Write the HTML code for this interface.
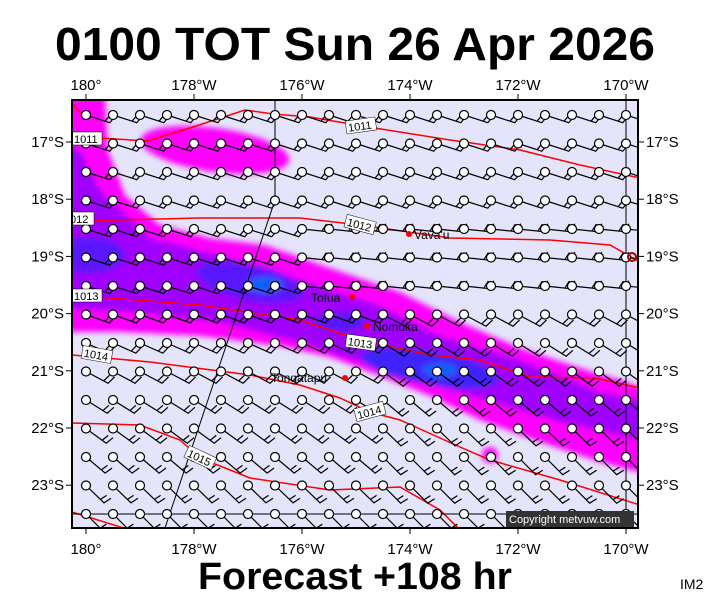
<!DOCTYPE html><html><head><meta charset="utf-8"><style>
body{margin:0;background:#fff;width:711px;height:600px;overflow:hidden;font-family:"Liberation Sans",sans-serif}
</style></head><body>
<svg id="s" width="711" height="600" xmlns="http://www.w3.org/2000/svg" font-family="Liberation Sans, sans-serif">
<text x="355" y="60" font-size="46" font-weight="bold" text-anchor="middle" textLength="600" lengthAdjust="spacingAndGlyphs">0100 TOT Sun 26 Apr 2026</text>
<text x="355" y="589" font-size="38" font-weight="bold" text-anchor="middle" textLength="314" lengthAdjust="spacingAndGlyphs">Forecast +108 hr</text>
<text x="680" y="589" font-size="14">IM2</text>
<defs><clipPath id="c"><rect x="72" y="100" width="566" height="428"/></clipPath>
<filter id="b"><feGaussianBlur stdDeviation="3"/></filter></defs>
<rect x="72" y="100" width="566" height="428" fill="#e4e4fa"/>
<g clip-path="url(#c)">
<g filter="url(#b)">
<path fill="#ff00ff" d="M60,95 L105,95 L108,150 L125,195 L160,225 L210,238 L265,245 L330,268 L400,292 L460,322 L520,348 L580,368 L620,380 L650,390 L650,475 L600,462 L540,442 L480,420 L430,396 L380,376 L330,357 L280,346 L200,336 L120,332 L60,332Z"/>
<ellipse cx="215" cy="150" rx="75" ry="22" fill="#ff00ff" transform="rotate(8 215 150)"/>
<circle cx="490" cy="455" r="8" fill="#ff00ff"/>
<path fill="#a000ff" d="M60,140 L80,150 L100,190 L150,238 L230,258 L300,280 L380,306 L440,336 L520,360 L600,392 L650,402 L650,442 L560,422 L480,398 L420,382 L360,362 L300,342 L220,322 L130,312 L60,308Z"/>
<ellipse cx="250" cy="282" rx="55" ry="18" fill="#5a14ff" transform="rotate(12 250 282)"/>
<ellipse cx="90" cy="255" rx="35" ry="18" fill="#5a14ff"/>
<ellipse cx="430" cy="368" rx="70" ry="17" fill="#4020ff" transform="rotate(10 430 368)"/>
<ellipse cx="340" cy="322" rx="25" ry="10" fill="#5a14ff"/>
<ellipse cx="265" cy="285" rx="18" ry="8" fill="#1060ff"/>
<ellipse cx="440" cy="370" rx="18" ry="7" fill="#1060ff"/>
</g>
<g fill="none" stroke="#f00" stroke-width="1.5">
<polyline points="100,138 147,141 190,128 245,110 273,114 310,117 362,126 450,140 520,150 580,165 640,178"/>
<polyline points="72,221 200,218 300,218 360,225 450,238 550,240 610,245 640,262"/>
<polyline points="72,295 200,305 300,320 360,340 430,355 480,360 530,377 595,378 640,388"/>
<polyline points="72,355 150,362 250,375 300,385 340,398 370,412 400,420 460,447 490,460 560,480 640,505"/>
<polyline points="72,423 140,425 180,440 200,458 250,478 330,490 400,487 440,510 460,530"/>
<polyline points="72,512 130,530"/>
<polyline points="72,103 85,118"/>
</g>
<g fill="none" stroke="#000" stroke-width="1">
<polyline points="275,100 275,200 165,528"/>
<line x1="626" y1="100" x2="626" y2="528"/>
<line x1="72" y1="514" x2="638" y2="514"/>
</g>
<g id="w" stroke="#000" stroke-width="1.2" fill="none"></g>
<g font-size="11">
<rect x="72" y="132" width="30" height="13" fill="#fff" stroke="#000" stroke-width=".5"/><text x="74" y="143">1011</text>
<rect x="346" y="119" width="30" height="13" fill="#fff" stroke="#000" stroke-width=".5" transform="rotate(-8 361 126)"/><text x="348" y="130" transform="rotate(-8 361 126)">1011</text>
<rect x="68" y="212" width="26" height="13" fill="#fff" stroke="#000" stroke-width=".5"/><text x="70" y="223">012</text>
<rect x="345" y="218" width="30" height="13" fill="#fff" stroke="#000" stroke-width=".5" transform="rotate(15 360 225)"/><text x="347" y="229" transform="rotate(15 360 225)">1012</text>
<rect x="72" y="289" width="30" height="13" fill="#fff" stroke="#000" stroke-width=".5"/><text x="74" y="300">1013</text>
<rect x="346" y="336" width="30" height="13" fill="#fff" stroke="#000" stroke-width=".5" transform="rotate(8 361 342)"/><text x="348" y="347" transform="rotate(8 361 342)">1013</text>
<rect x="82" y="348" width="30" height="13" fill="#fff" stroke="#000" stroke-width=".5" transform="rotate(10 97 354)"/><text x="84" y="359" transform="rotate(10 97 354)">1014</text>
<rect x="355" y="405" width="30" height="13" fill="#fff" stroke="#000" stroke-width=".5" transform="rotate(-15 370 412)"/><text x="357" y="416" transform="rotate(-15 370 412)">1014</text>
<rect x="185" y="451" width="30" height="13" fill="#fff" stroke="#000" stroke-width=".5" transform="rotate(25 200 458)"/><text x="187" y="462" transform="rotate(25 200 458)">1015</text>
</g>
<g font-size="12" fill="#000">
<circle cx="409" cy="234" r="3" fill="#f00"/><text x="414" y="239">Vava'u</text>
<circle cx="352" cy="297" r="3" fill="#f00"/><text x="311" y="302">Tofua</text>
<circle cx="367" cy="326" r="3" fill="#f00"/><text x="373" y="331">Nomuka</text>
<circle cx="345" cy="378" r="3" fill="#f00"/><text x="271" y="382">Tongatapu</text>
<circle cx="632" cy="257" r="4" fill="none" stroke="#a00" stroke-width="2"/>
</g>
<rect x="506" y="511" width="128" height="16" fill="#333"/>
<text x="509" y="523" font-size="11" fill="#fff">Copyright metvuw.com</text>
</g>
<rect x="72" y="100" width="566" height="428" fill="none" stroke="#000" stroke-width="2"/>
<g id="ax" font-size="15"></g>
</svg>
<script>
var NS="http://www.w3.org/2000/svg",w=document.getElementById("w"),ax=document.getElementById("ax");
function el(p,t,a){var e=document.createElementNS(NS,t);for(var k in a)e.setAttribute(k,a[k]);p.appendChild(e);return e;}
for(var r=0;r<15;r++){var y=115+r*28.5;
 for(var c=0;c<21;c++){var x=86+c*27;
  var a=18;
  if(r>=4&&r<=6&&c>=8)a=6;
  else if(r>=7)a=Math.min(45,20+(r-7)*4+(c>10?8:0));
  var rad=a*Math.PI/180,L=25,ex=x+L*Math.cos(rad),ey=y+L*Math.sin(rad);
  var px=Math.sin(rad)*0.6+Math.cos(rad)*0.5,py=-Math.cos(rad)*0.9+Math.sin(rad)*0.2;
  var d="M"+x+","+y+"L"+ex+","+ey+"l"+(px*9)+","+(py*9);
  var mx=x+0.8*L*Math.cos(rad),my=y+0.8*L*Math.sin(rad);
  d+="M"+mx+","+my+"l"+(px*8)+","+(py*8);
  el(w,"path",{d:d});
  el(w,"circle",{cx:x,cy:y,r:4.5,fill:"#fff"});
 }}
var lon=["180°","178°W","176°W","174°W","172°W","170°W"];
for(var i=0;i<6;i++){var x=86+i*108;
 el(ax,"text",{x:x,y:90,"text-anchor":"middle"}).textContent=lon[i];
 el(ax,"text",{x:x,y:554,"text-anchor":"middle"}).textContent=lon[i];
 el(ax,"line",{x1:x,y1:94,x2:x,y2:100,stroke:"#000"});
 el(ax,"line",{x1:x,y1:528,x2:x,y2:534,stroke:"#000"});}
for(var j=0;j<7;j++){var y=142+j*57.2,t=(17+j)+"°S";
 el(ax,"text",{x:64,y:y+5,"text-anchor":"end"}).textContent=t;
 el(ax,"text",{x:646,y:y+5}).textContent=t;
 el(ax,"line",{x1:66,y1:y,x2:72,y2:y,stroke:"#000"});
 el(ax,"line",{x1:638,y1:y,x2:644,y2:y,stroke:"#000"});}
</script>
</body></html>
